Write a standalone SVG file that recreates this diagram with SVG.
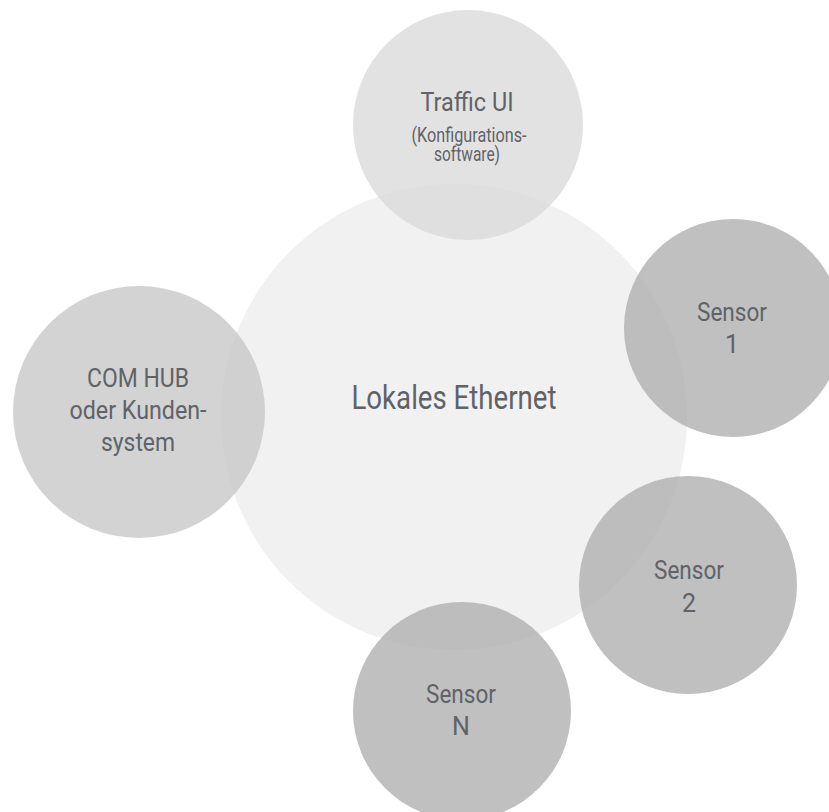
<svg xmlns="http://www.w3.org/2000/svg" width="829" height="812" viewBox="0 0 829 812">
<style>
.t{font-family:Roboto,"Liberation Sans",sans-serif;fill:#5f6368;text-anchor:middle}
.big{font-size:33px}
.m{font-size:25px}
.s{font-size:19.5px}
.hub{fill:#f1f1f1}
.ui{fill:#d8d8d8;fill-opacity:.75}
.com{fill:#c4c4c4;fill-opacity:.75}
.sen{fill:#ababab;fill-opacity:.75}
</style>
<rect width="829" height="812" fill="#ffffff"/>
<g id="lokales-ethernet">
<circle class="hub" cx="454" cy="417" r="233"/>
</g>
<g id="traffic-ui">
<circle class="ui" cx="468" cy="125" r="115"/>
<text class="t m" x="467" y="111" textLength="93" lengthAdjust="spacingAndGlyphs">Traffic UI</text>
<text class="t s" x="469" y="141.5" textLength="115" lengthAdjust="spacingAndGlyphs">(Konfigurations-</text>
<text class="t s" x="467" y="161" textLength="66" lengthAdjust="spacingAndGlyphs">software)</text>
</g>
<g id="sensor-1">
<circle class="sen" cx="733" cy="328" r="109"/>
<text class="t m" x="732" y="321" textLength="70" lengthAdjust="spacingAndGlyphs">Sensor</text>
<text class="t m" x="732" y="353">1</text>
</g>
<g id="com-hub">
<circle class="com" cx="139" cy="412" r="126"/>
<text class="t m" x="138" y="387" textLength="102" lengthAdjust="spacingAndGlyphs">COM HUB</text>
<text class="t m" x="138" y="419" textLength="137" lengthAdjust="spacingAndGlyphs">oder Kunden-</text>
<text class="t m" x="138" y="451" textLength="74" lengthAdjust="spacingAndGlyphs">system</text>
</g>
<g id="sensor-2">
<circle class="sen" cx="688" cy="585" r="109"/>
<text class="t m" x="689" y="579" textLength="70" lengthAdjust="spacingAndGlyphs">Sensor</text>
<text class="t m" x="689" y="612">2</text>
</g>
<g id="sensor-n">
<circle class="sen" cx="462" cy="711" r="109"/>
<text class="t m" x="461" y="703" textLength="70" lengthAdjust="spacingAndGlyphs">Sensor</text>
<text class="t m" x="461" y="735">N</text>
</g>
<g id="lokales-ethernet-label">
<text class="t big" x="454" y="409" textLength="205" lengthAdjust="spacingAndGlyphs">Lokales Ethernet</text>
</g>
<g id="connectors"/>
</svg>
